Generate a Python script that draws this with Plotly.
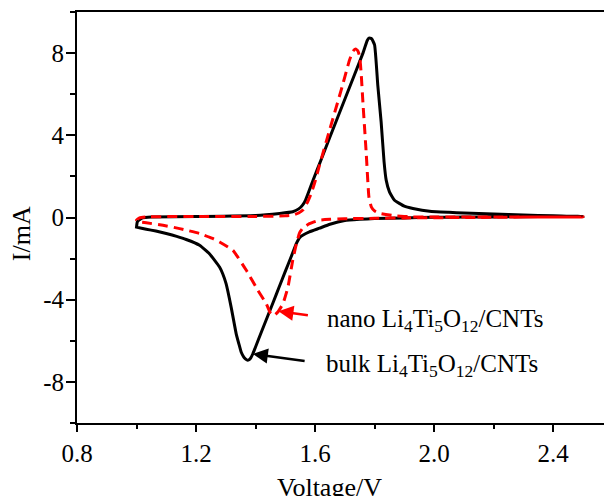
import plotly.graph_objects as go

# ---- data ----
bulk_cath_v = [2.50, 2.40, 2.30, 2.20, 2.10, 2.00, 1.90, 1.80, 1.75, 1.70, 1.65, 1.615, 1.581, 1.56,
               1.548, 1.537, 1.52, 1.50, 1.48, 1.46, 1.44, 1.42, 1.40, 1.391, 1.384, 1.378, 1.372,
               1.366, 1.36, 1.352, 1.344, 1.335, 1.318, 1.301, 1.29, 1.279, 1.245, 1.212, 1.167, 1.135,
               1.10, 1.065, 1.033, 1.0]
bulk_cath_i = [0.05, 0.05, 0.04, 0.03, 0.02, 0.01, -0.02, -0.05, -0.09, -0.15, -0.33, -0.52, -0.7, -0.85,
               -0.98, -1.27, -1.9, -2.62, -3.36, -4.1, -4.83, -5.56, -6.3, -6.63, -6.83, -6.92, -6.94,
               -6.88, -6.78, -6.56, -6.15, -5.66, -4.36, -3.22, -2.75, -2.41, -1.76, -1.35, -1.07, -0.92,
               -0.78, -0.66, -0.57, -0.47]
bulk_anod_v = [1.0, 1.003, 1.02, 1.05, 1.2, 1.4, 1.481, 1.525, 1.545, 1.558, 1.568, 1.58, 1.593, 1.62,
               1.649, 1.705, 1.761, 1.775, 1.781, 1.79, 1.800, 1.811, 1.822, 1.832, 1.839, 1.85, 1.867,
               1.90, 1.929, 1.985, 2.05, 2.10, 2.20, 2.30, 2.40, 2.50]
bulk_anod_i = [-0.47, -0.2, -0.02, 0.02, 0.05, 0.1, 0.2, 0.28, 0.42, 0.6, 0.85, 1.3, 1.8, 2.8,
               3.88, 5.94, 8.0, 8.6, 8.73, 8.7, 8.4, 6.4, 4.66, 2.7, 1.82, 1.25, 0.84,
               0.55, 0.44, 0.3, 0.25, 0.22, 0.17, 0.12, 0.08, 0.05]

nano_cath_v = [2.50, 2.30, 2.10, 1.90, 1.80, 1.70, 1.65, 1.615, 1.581, 1.56, 1.548, 1.537, 1.525,
               1.509, 1.492, 1.475, 1.464, 1.458, 1.45, 1.436, 1.408, 1.369, 1.324, 1.279, 1.256,
               1.212, 1.145, 1.089, 1.033, 1.005]
nano_cath_i = [0.03, 0.02, 0.0, -0.02, -0.04, -0.06, -0.09, -0.13, -0.3, -0.5, -0.75, -1.3, -2.08,
               -3.38, -4.2, -4.6, -4.75, -4.77, -4.65, -4.2, -3.55, -2.57, -1.6, -1.19, -1.02,
               -0.78, -0.54, -0.38, -0.26, -0.21]
nano_anod_v = [1.005, 1.0, 1.01, 1.033, 1.2, 1.4, 1.5, 1.525, 1.545, 1.559, 1.573, 1.587, 1.60, 1.615,
               1.649, 1.688, 1.716, 1.728, 1.736, 1.744, 1.750, 1.755, 1.761, 1.772, 1.781, 1.789,
               1.80, 1.817, 1.87, 1.929, 2.0, 2.2, 2.4, 2.5]
nano_anod_i = [-0.21, -0.12, -0.02, 0.03, 0.05, 0.05, 0.08, 0.11, 0.22, 0.36, 0.7, 1.17, 1.75, 2.55,
               4.26, 6.21, 7.67, 8.1, 8.2, 8.1, 7.83, 7.0, 5.56, 3.12, 1.0, 0.52,
               0.32, 0.2, 0.08, 0.03, 0.02, 0.02, 0.02, 0.03]

x_ticks = [0.8, 1.2, 1.6, 2.0, 2.4]
x_ticklabels = ["0.8", "1.2", "1.6", "2.0", "2.4"]
y_ticks = [-8, -4, 0, 4, 8]
y_ticklabels = ["-8", "-4", "0", "4", "8"]

label_nano = "nano Li<sub>4</sub>Ti<sub>5</sub>O<sub>12</sub>/CNTs"
label_bulk = "bulk Li<sub>4</sub>Ti<sub>5</sub>O<sub>12</sub>/CNTs"

FONT = "Liberation Serif"

fig = go.Figure()
fig.add_trace(go.Scatter(
    x=bulk_cath_v + bulk_anod_v, y=bulk_cath_i + bulk_anod_i, mode="lines",
    line=dict(color="black", width=3, shape="spline", smoothing=0.4), showlegend=False))
fig.add_trace(go.Scatter(
    x=nano_cath_v + nano_anod_v, y=nano_cath_i + nano_anod_i, mode="lines",
    line=dict(color="#ff0000", width=3, dash="10px,6px", shape="spline", smoothing=0.4),
    showlegend=False))

# arrows
fig.add_annotation(x=1.477, y=-4.56, ax=1.581, ay=-4.77, xref="x", yref="y", axref="x", ayref="y",
                   showarrow=True, arrowhead=2, arrowsize=1.2, arrowwidth=2.5, arrowcolor="#ff0000", text="")
fig.add_annotation(x=1.391, y=-6.64, ax=1.570, ay=-6.99, xref="x", yref="y", axref="x", ayref="y",
                   showarrow=True, arrowhead=2, arrowsize=1.2, arrowwidth=2.5, arrowcolor="black", text="")
# labels
fig.add_annotation(x=1.632, y=-5.0, xref="x", yref="y", text=label_nano, showarrow=False,
                   xanchor="left", yanchor="middle", font=dict(family=FONT, size=25, color="black"))
fig.add_annotation(x=1.629, y=-7.2, xref="x", yref="y", text=label_bulk, showarrow=False,
                   xanchor="left", yanchor="middle", font=dict(family=FONT, size=25, color="black"))
# axis titles
fig.add_annotation(x=0.48, y=-0.158, xref="paper", yref="paper", text="Voltage/V", showarrow=False,
                   xanchor="center", yanchor="middle", font=dict(family=FONT, size=26, color="black"))
fig.add_annotation(x=-0.104, y=0.46, xref="paper", yref="paper", text="I/mA", showarrow=False,
                   textangle=-90, xanchor="center", yanchor="middle",
                   font=dict(family=FONT, size=26, color="black"))

fig.update_xaxes(range=[0.8, 2.571], tickvals=x_ticks, ticktext=x_ticklabels,
                 showline=True, linecolor="black", linewidth=2, mirror=True,
                 ticks="outside", ticklen=7, tickwidth=2, tickcolor="black",
                 minor=dict(dtick=0.2, tick0=0.8, ticks="outside", ticklen=4, tickwidth=2, tickcolor="black"),
                 showgrid=False, zeroline=False,
                 tickfont=dict(family=FONT, size=25, color="black"))
fig.update_yaxes(range=[-10, 10], tickvals=y_ticks, ticktext=y_ticklabels,
                 showline=True, linecolor="black", linewidth=2, mirror=False,
                 ticks="outside", ticklen=9, tickwidth=2, tickcolor="black",
                 ticklabelstandoff=-3,
                 minor=dict(dtick=2, tick0=0, ticks="outside", ticklen=5, tickwidth=2, tickcolor="black"),
                 showgrid=False, zeroline=False,
                 tickfont=dict(family=FONT, size=25, color="black"))

fig.update_layout(width=604, height=496, margin=dict(l=77, r=0, t=12, b=73),
                  plot_bgcolor="white", paper_bgcolor="white")

fig.write_html("out.html")
